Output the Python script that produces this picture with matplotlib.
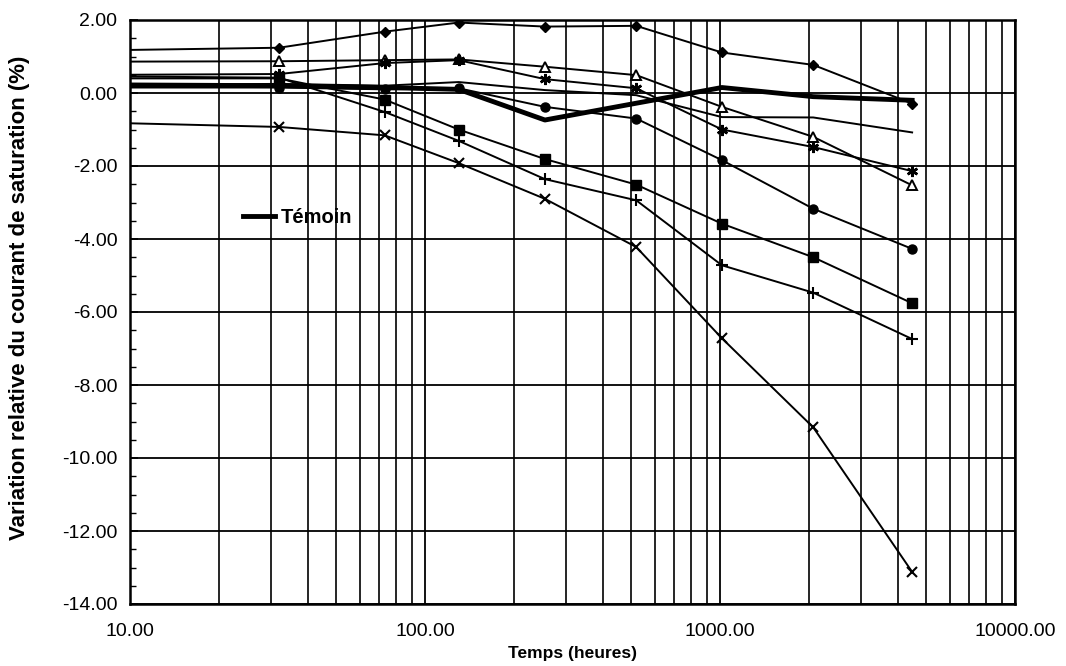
import matplotlib
matplotlib.use("Agg")
import matplotlib.pyplot as plt
from matplotlib.ticker import FixedLocator, NullFormatter, MultipleLocator, FuncFormatter

plt.rcParams['font.family'] = ['Liberation Sans', 'DejaVu Sans']

# Time points (hours); first point sits at the left edge of the log axis
temps = [10, 32, 73, 130, 255, 520, 1015, 2070, 4480]

serie_losange = [1.18, 1.24, 1.68, 1.93, 1.82, 1.84, 1.11, 0.77, -0.29]
serie_triangle = [0.86, 0.87, 0.90, 0.92, 0.72, 0.49, -0.38, -1.20, -2.53]
serie_etoile = [0.50, 0.52, 0.82, 0.90, 0.38, 0.13, -1.00, -1.48, -2.14]
serie_fine = [0.22, 0.25, 0.20, 0.30, 0.08, -0.06, -0.66, -0.67, -1.08]
temoin = [0.22, 0.20, 0.15, 0.10, -0.74, -0.28, 0.15, -0.10, -0.20]
serie_cercle = [0.15, 0.15, 0.10, 0.13, -0.38, -0.70, -1.84, -3.17, -4.27]
serie_carre = [0.40, 0.40, -0.18, -1.00, -1.81, -2.51, -3.58, -4.50, -5.76]
serie_plus = [0.45, 0.42, -0.52, -1.31, -2.36, -2.94, -4.72, -5.47, -6.74]
serie_croix = [-0.83, -0.93, -1.16, -1.92, -2.90, -4.22, -6.72, -9.16, -13.12]

fig = plt.figure(figsize=(10.66, 6.66), dpi=100)
ax = fig.add_axes([130/1066, 1 - 604/666, (1015-130)/1066, (604-20)/666])

mk = dict(markevery=list(range(1, len(temps))), color='black', linewidth=1.4)
ax.plot(temps, serie_losange, marker='D', markersize=5.5, **mk)
ax.plot(temps, serie_triangle, marker='^', markersize=7, markerfacecolor='white',
        markeredgewidth=1.4, **mk)
ax.plot(temps, serie_etoile, marker=(6, 2, 0), markersize=8, markeredgewidth=1.8, **mk)
ax.plot(temps, serie_fine, **mk)
ax.plot(temps, serie_cercle, marker='o', markersize=6.5, **mk)
ax.plot(temps, serie_carre, marker='s', markersize=6.5, **mk)
ax.plot(temps, serie_plus, marker='+', markersize=8, markeredgewidth=1.5, **mk)
ax.plot(temps, serie_croix, marker='x', markersize=7, markeredgewidth=1.5, **mk)
ax.plot(temps, temoin, color='black', linewidth=3.5, label='Témoin')

ax.set_xscale('log')
ax.set_xlim(10, 10000)
ax.set_ylim(-14, 2)

ax.xaxis.set_major_locator(FixedLocator([10, 100, 1000, 10000]))
ax.xaxis.set_major_formatter(FuncFormatter(lambda v, p: f"{v:.2f}"))
minors = [m * 10**e for e in (1, 2, 3) for m in range(2, 10)]
ax.xaxis.set_minor_locator(FixedLocator(minors))
ax.xaxis.set_minor_formatter(NullFormatter())
ax.yaxis.set_major_locator(MultipleLocator(2))
ax.yaxis.set_minor_locator(MultipleLocator(0.5))
ax.yaxis.set_major_formatter(FuncFormatter(lambda v, p: f"{v:.2f}"))

ax.grid(which='major', axis='both', color='black', linewidth=1.3)
ax.grid(which='minor', axis='x', color='black', linewidth=1.2)
ax.set_axisbelow(True)

ax.tick_params(axis='x', which='both', length=0, pad=14, labelsize=14)
ax.tick_params(axis='y', which='major', direction='in', length=6, width=1.2,
               labelsize=14, pad=9)
ax.tick_params(axis='y', which='minor', direction='in', length=4, width=1.0)
for s in ax.spines.values():
    s.set_linewidth(1.8)
    s.set_color('black')

ax.set_xlabel('Temps (heures)', fontsize=12.5, fontweight='bold', labelpad=4)
ax.set_ylabel('Variation relative du courant de saturation (%)', fontsize=16,
              fontweight='bold')
ax.yaxis.set_label_coords(-0.113, 0.525)

leg = ax.legend(loc='center left', bbox_to_anchor=(0.107, 0.662), frameon=False,
                handlelength=1.6, handletextpad=0.3,
                prop={'weight': 'bold', 'size': 14.5})

fig.savefig('out.png', dpi=100)
